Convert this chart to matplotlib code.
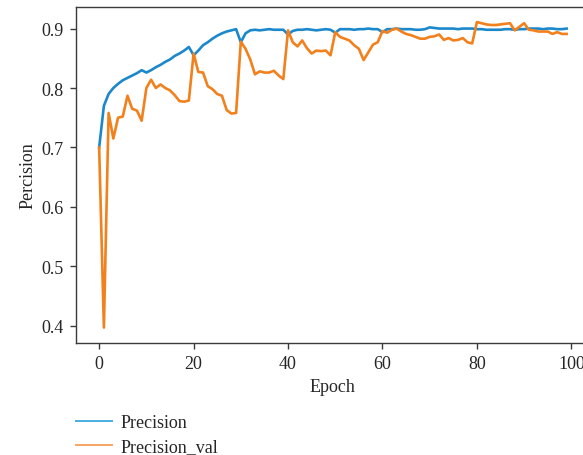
import matplotlib
matplotlib.use("Agg")
import matplotlib.pyplot as plt
from matplotlib.lines import Line2D

epochs = list(range(100))

precision = [
    0.700, 0.770, 0.790, 0.800, 0.807, 0.813, 0.817, 0.821, 0.825, 0.830,
    0.826, 0.830, 0.835, 0.839, 0.844, 0.848, 0.854, 0.858, 0.863, 0.869,
    0.855, 0.863, 0.872, 0.877, 0.883, 0.888, 0.892, 0.895, 0.897, 0.899,
    0.877, 0.892, 0.897, 0.898, 0.897, 0.898, 0.899, 0.898, 0.898, 0.898,
    0.890, 0.896, 0.898, 0.898, 0.899, 0.898, 0.897, 0.898, 0.899, 0.898,
    0.893, 0.899, 0.899, 0.899, 0.898, 0.899, 0.899, 0.900, 0.899, 0.899,
    0.894, 0.899, 0.899, 0.900, 0.899, 0.899, 0.899, 0.898, 0.898, 0.899,
    0.902, 0.901, 0.900, 0.900, 0.900, 0.900, 0.899, 0.900, 0.900, 0.900,
    0.899, 0.899, 0.898, 0.898, 0.898, 0.898, 0.899, 0.899, 0.898, 0.899,
    0.899, 0.900, 0.900, 0.900, 0.899, 0.900, 0.900, 0.899, 0.899, 0.900,
]

precision_val = [
    0.700, 0.397, 0.758, 0.715, 0.750, 0.752, 0.787, 0.765, 0.762, 0.745,
    0.800, 0.814, 0.800, 0.806, 0.800, 0.796, 0.788, 0.778, 0.777, 0.779,
    0.858, 0.827, 0.826, 0.803, 0.798, 0.790, 0.787, 0.763, 0.757, 0.758,
    0.878, 0.866, 0.848, 0.823, 0.828, 0.826, 0.826, 0.829, 0.821, 0.815,
    0.897, 0.877, 0.870, 0.880, 0.867, 0.858, 0.863, 0.862, 0.863, 0.855,
    0.894, 0.886, 0.883, 0.880, 0.872, 0.866, 0.847, 0.860, 0.873, 0.877,
    0.896, 0.893, 0.898, 0.900, 0.895, 0.891, 0.889, 0.886, 0.883, 0.883,
    0.886, 0.887, 0.890, 0.881, 0.884, 0.880, 0.881, 0.884, 0.877, 0.875,
    0.911, 0.909, 0.907, 0.906, 0.906, 0.907, 0.908, 0.909, 0.897, 0.903,
    0.909, 0.898, 0.897, 0.895, 0.895, 0.895, 0.891, 0.894, 0.891, 0.891,
]

series_labels = ["Precision", "Precision_val"]
x_ticks = [0, 20, 40, 60, 80, 100]
y_ticks = [0.4, 0.5, 0.6, 0.7, 0.8, 0.9]

plt.rcParams["font.family"] = ["Liberation Serif", "DejaVu Serif"]
plt.rcParams["font.size"] = 13

blue = "#1b88cc"
orange = "#f2801c"
text_color = "#262626"
spine_color = "#3a3a3a"

fig = plt.figure(figsize=(5.83, 4.56), dpi=100)
ax = fig.add_axes([0.130, 0.246, 0.882, 0.737])

ax.plot(epochs, precision, color=blue, lw=1.9, label=series_labels[0])
ax.plot(epochs, precision_val, color=orange, lw=1.9, label=series_labels[1])

ax.set_xticks(x_ticks)
ax.set_yticks(y_ticks)
ax.set_xlabel("Epoch", color=text_color, labelpad=4)
ax.set_ylabel("Percision", color=text_color, labelpad=3)
ax.tick_params(direction="out", length=4, width=1, colors=spine_color,
               labelcolor=text_color, pad=5)
for side in ("left", "bottom", "top", "right"):
    ax.spines[side].set_color(spine_color)
    ax.spines[side].set_linewidth(1.0)

handles = [
    Line2D([], [], color="#4aaee2", lw=1.4),
    Line2D([], [], color="#f6a564", lw=1.4),
]
fig.legend(handles, series_labels, loc="upper left",
           bbox_to_anchor=(0.118, 0.106), frameon=False,
           handlelength=2.0, handletextpad=0.45, labelspacing=0.42,
           borderaxespad=0, labelcolor=text_color)

fig.savefig("out.png", dpi=100)
